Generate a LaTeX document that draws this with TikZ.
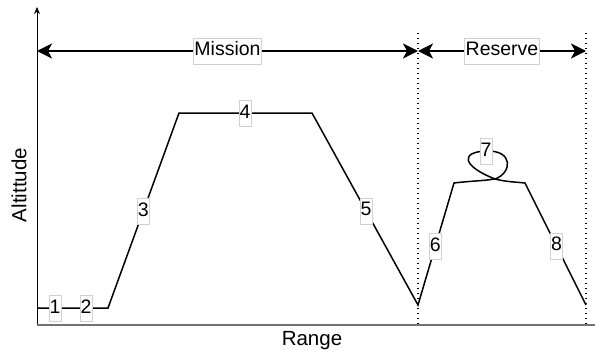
\documentclass[tikz,border=0pt]{standalone}
\usepackage{fontspec}
\setmainfont{Liberation Sans}
\usetikzlibrary{arrows.meta}
\begin{document}
\begin{tikzpicture}[x=1pt,y=-1pt,
  lbl/.style={draw=black!18,fill=white,line width=0.6pt,inner xsep=0.6pt,inner ysep=4pt,
    font=\fontsize{19.5}{22}\selectfont,text height=14pt,text depth=4pt},
  seg/.style={line width=1.5pt,line join=miter},
  span/.style={line width=2pt,{Stealth[length=15pt,width=15pt,inset=4pt]}-{Stealth[length=15pt,width=15pt,inset=4pt]}},
  divider/.style={line width=1.3pt,dash pattern=on 1.3pt off 3.7pt},
  axistext/.style={font=\fontsize{20.5}{24}\selectfont}]
\useasboundingbox (0,0) rectangle (595,356);

% axes
\coordinate (o) at (37,325);
\coordinate (ytop) at (37,7);
\coordinate (xend) at (595,325);
\draw[line width=1pt,-{Stealth[length=7pt,width=6pt]}] (o) -- (ytop);
\draw[line width=1.3pt,black!55] (o) -- (xend);
\node[axistext,anchor=base] (range) at (312,345) {Range};
\node[axistext,rotate=90] (alt) at (19,185) {Altittude};

% phase boundaries
\coordinate (m0) at (37,51);
\coordinate (m1) at (418,51);
\coordinate (r1) at (586,51);
\coordinate (d1t) at (418,33);
\coordinate (d1b) at (418,326);
\coordinate (d2t) at (586,33);
\coordinate (d2b) at (586,326);
\draw[divider] (d1t) -- (d1b);
\draw[divider] (d2t) -- (d2b);
\draw[span] (m0) -- node[lbl,inner xsep=1pt] (mission) {Mission} (m1);
\draw[span] (m1) -- node[lbl,inner xsep=1pt] (reserve) {Reserve} (r1);

% flight profile
\coordinate (p0) at (37,308);
\coordinate (p1) at (108,308);
\coordinate (p2) at (179,113);
\coordinate (p3) at (312,113);
\coordinate (p4) at (418,305);
\coordinate (p5) at (454,183);
\coordinate (px) at (495,179);
\coordinate (pt) at (486,151);
\coordinate (p6) at (525,183);
\coordinate (p7) at (586,305);
\draw[seg] (p0) -- node[lbl,pos=0.254] (l1) {1} node[lbl,pos=0.69] (l2) {2} (p1)
  -- node[lbl,pos=0.497] (l3) {3} (p2)
  -- node[lbl,pos=0.496] (l4) {4} (p3)
  -- node[lbl,pos=0.51] (l5) {5} (p4)
  -- node[lbl,pos=0.48] (l6) {6} (p5)
  .. controls (470,181) and (482,181) .. (px)
  .. controls (512,173) and (514,150) .. (pt)
  .. controls (460,152) and (462,166) .. (px)
  .. controls (507,182) and (516,182) .. (p6)
  -- node[lbl,pos=0.516] (l8) {8} (p7);
\node[lbl] (l7) at (pt) {7};
\end{tikzpicture}
\end{document}
